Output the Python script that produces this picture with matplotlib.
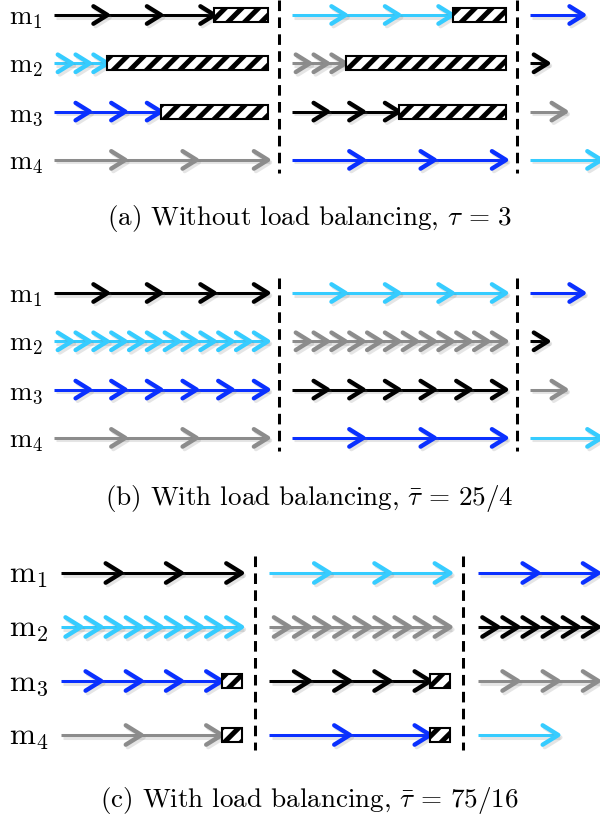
import numpy as np
import matplotlib.pyplot as plt
from matplotlib.path import Path
from matplotlib.markers import MarkerStyle
from matplotlib.patches import Rectangle
import matplotlib.patheffects as pe

plt.rcParams['mathtext.fontset'] = 'cm'
plt.rcParams['hatch.linewidth'] = 2.4
plt.rcParams['hatch.color'] = 'black'

W, H, DPI = 600, 818, 150

BLACK = '#000000'
CYAN = '#36ccff'
BLUE = '#0a30ff'
GREY = '#8c8c8c'

# machines and their time per iteration
machines = [r'$\mathrm{m}_1$', r'$\mathrm{m}_2$', r'$\mathrm{m}_3$', r'$\mathrm{m}_4$']
iter_time = [3, 1, 2, 4]

# task colour run by each machine in each phase
phase_colors = [[BLACK, CYAN, BLUE, GREY],
                [CYAN, GREY, BLACK, BLUE],
                [BLUE, BLACK, GREY, CYAN]]

# iterations per machine per phase
a_counts = [[3, 3, 3, 3], [3, 3, 3, 3], [1, 1, 1, 1]]
b_counts = [[4, 12, 6, 3], [4, 12, 6, 3], [1, 1, 1, 1]]
c_counts = [[3, 9, 4, 2], [3, 9, 4, 2], [2, 6, 3, 1]]
phase_len = [12, 12, 9]

captions = [r'(a) Without load balancing, $\tau\,=\,3$',
            r'(b) With load balancing, $\bar{\tau}\,=\,25/4$',
            r'(c) With load balancing, $\bar{\tau}\,=\,75/16$']

# layout of each panel in pixels
layouts = [
    dict(top=0, bottom=182, x0=54, scale=17.83, gap=1.35, row0=15, dy=48.3,
         fs=13, ms=13.5, cap_y=218),
    dict(top=272, bottom=458, x0=54, scale=17.83, gap=1.35, row0=293, dy=48.3,
         fs=13, ms=13.5, cap_y=498),
    dict(top=550, bottom=764, x0=61, scale=20.1, gap=1.37, row0=573, dy=54,
         fs=15, ms=15, cap_y=800),
]

chevron = MarkerStyle(Path([(-1, 0.62), (0, 0), (-1, -0.62)],
                           [Path.MOVETO, Path.LINETO, Path.LINETO]),
                      joinstyle='round', capstyle='round')
shadow = [pe.SimpleLineShadow(offset=(1.0, -1.2), shadow_color='0.5', alpha=0.2), pe.Normal()]

fig = plt.figure(figsize=(W / DPI, H / DPI), dpi=DPI)


def draw_panel(ax, counts, plen, lay):
    s = lay['scale']
    ax.set_xlim(-lay['x0'] / s, (W - lay['x0']) / s)
    ax.set_ylim((lay['bottom'] - lay['row0']) / lay['dy'], (lay['top'] - lay['row0']) / lay['dy'])
    ax.axis('off')
    box_h = 14 / lay['dy']
    period = plen + lay['gap']
    for p, row_counts in enumerate(counts):
        start = p * period
        for i, n in enumerate(row_counts):
            col = phase_colors[p][i]
            tips = start + iter_time[i] * np.arange(1, n + 1)
            ax.plot([start, tips[-1]], [i, i], color=col, lw=1.45,
                    solid_capstyle='butt', path_effects=shadow)
            ax.plot(tips, [i] * n, ls='none', marker=chevron, ms=lay['ms'],
                    mec=col, mfc='none', mew=2.1, path_effects=shadow)
            # idle time until the end of the phase
            if p < 2 and tips[-1] < start + plen:
                ax.add_patch(Rectangle((tips[-1], i - box_h / 2), start + plen - tips[-1], box_h,
                                       fc='white', ec='black', lw=1.0, hatch='///', zorder=3))
        if p < 2:
            xd = start + plen + lay['gap'] * 0.47
            ax.plot([xd, xd], [-0.32, 3.28], color='black', lw=1.45, ls=(0, (3.5, 2.1)))
    for i, m in enumerate(machines):
        ax.text(9 / W, i + 3 / lay['dy'], m, transform=ax.get_yaxis_transform(),
                ha='left', va='center', fontsize=lay['fs'])


for counts, plen, lay, cap in zip([a_counts, b_counts, c_counts], phase_len, layouts, captions):
    ax = fig.add_axes([0, 1 - lay['bottom'] / H, 1, (lay['bottom'] - lay['top']) / H])
    draw_panel(ax, counts, plen, lay)
    fig.text(0.516, 1 - lay['cap_y'] / H, cap, ha='center', va='center',
             family='cmr10', fontsize=13)

fig.savefig('out.png', dpi=DPI, facecolor='white')
